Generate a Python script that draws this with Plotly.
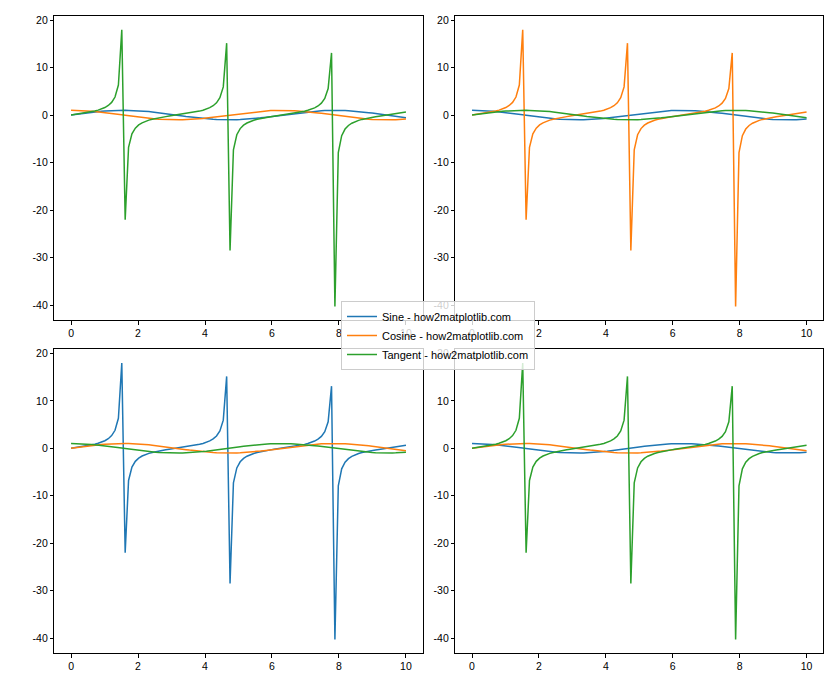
import plotly.graph_objects as go

x_vals = [0.0, 0.1010, 0.2020, 0.3030, 0.4040, 0.5051, 0.6061, 0.7071, 0.8081, 0.9091,
          1.0101, 1.1111, 1.2121, 1.3131, 1.4141, 1.5152, 1.6162, 1.7172, 1.8182, 1.9192,
          2.0202, 2.1212, 2.2222, 2.3232, 2.4242, 2.5253, 2.6263, 2.7273, 2.8283, 2.9293,
          3.0303, 3.1313, 3.2323, 3.3333, 3.4343, 3.5354, 3.6364, 3.7374, 3.8384, 3.9394,
          4.0404, 4.1414, 4.2424, 4.3434, 4.4444, 4.5455, 4.6465, 4.7475, 4.8485, 4.9495,
          5.0505, 5.1515, 5.2525, 5.3535, 5.4545, 5.5556, 5.6566, 5.7576, 5.8586, 5.9596,
          6.0606, 6.1616, 6.2626, 6.3636, 6.4646, 6.5657, 6.6667, 6.7677, 6.8687, 6.9697,
          7.0707, 7.1717, 7.2727, 7.3737, 7.4747, 7.5758, 7.6768, 7.7778, 7.8788, 7.9798,
          8.0808, 8.1818, 8.2828, 8.3838, 8.4848, 8.5859, 8.6869, 8.7879, 8.8889, 8.9899,
          9.0909, 9.1919, 9.2929, 9.3939, 9.4949, 9.5960, 9.6970, 9.7980, 9.8990, 10.0]

sine = [0.0, 0.1008, 0.2007, 0.2984, 0.3931, 0.4839, 0.5696, 0.6496, 0.7230, 0.7889,
        0.8469, 0.8962, 0.9364, 0.9670, 0.9878, 0.9985, 0.9990, 0.9893, 0.9696, 0.9399,
        0.9007, 0.8523, 0.7952, 0.7300, 0.6574, 0.5781, 0.4928, 0.4026, 0.3082, 0.2107,
        0.1111, 0.0103, -0.0906, -0.1906, -0.2886, -0.3837, -0.4748, -0.5612, -0.6418, -0.7158,
        -0.7826, -0.8414, -0.8916, -0.9327, -0.9643, -0.9861, -0.9978, -0.9994, -0.9908, -0.9720,
        -0.9434, -0.9051, -0.8576, -0.8014, -0.7370, -0.6651, -0.5864, -0.5017, -0.4120, -0.3180,
        -0.2207, -0.1213, -0.0206, 0.0804, 0.1805, 0.2787, 0.3742, 0.4658, 0.5526, 0.6338,
        0.7086, 0.7761, 0.8358, 0.8869, 0.9289, 0.9615, 0.9843, 0.9971, 0.9997, 0.9921,
        0.9744, 0.9467, 0.9094, 0.8629, 0.8075, 0.7439, 0.6727, 0.5947, 0.5106, 0.4213,
        0.3277, 0.2308, 0.1315, 0.0308, -0.0701, -0.1703, -0.2688, -0.3646, -0.4566, -0.5440]

cosine = [1.0, 0.9949, 0.9797, 0.9544, 0.9195, 0.8752, 0.8219, 0.7603, 0.6909, 0.6145,
          0.5318, 0.4437, 0.3510, 0.2548, 0.1560, 0.0556, -0.0453, -0.1459, -0.2449, -0.3414,
          -0.4344, -0.5230, -0.6063, -0.6834, -0.7536, -0.8160, -0.8701, -0.9154, -0.9513, -0.9776,
          -0.9938, -0.9999, -0.9959, -0.9817, -0.9575, -0.9235, -0.8801, -0.8277, -0.7669, -0.6983,
          -0.6225, -0.5405, -0.4529, -0.3606, -0.2648, -0.1662, -0.0659, 0.0351, 0.1357, 0.2349,
          0.3317, 0.4251, 0.5143, 0.5981, 0.6759, 0.7468, 0.8100, 0.8650, 0.9112, 0.9481,
          0.9753, 0.9926, 0.9998, 0.9968, 0.9836, 0.9604, 0.9274, 0.8849, 0.8334, 0.7735,
          0.7056, 0.6306, 0.5491, 0.4620, 0.3702, 0.2746, 0.1763, 0.0761, -0.0248, -0.1255,
          -0.2249, -0.3220, -0.4158, -0.5054, -0.5898, -0.6683, -0.7399, -0.8039, -0.8598, -0.9069,
          -0.9448, -0.9730, -0.9913, -0.9995, -0.9975, -0.9854, -0.9632, -0.9312, -0.8897, -0.8391]

tangent = [0.0, 0.1014, 0.2048, 0.3127, 0.4276, 0.5529, 0.6931, 0.8544, 1.0464, 1.2840,
           1.5926, 2.0200, 2.6674, 3.7947, 6.3311, 17.952, -22.029, -6.7829, -3.9595, -2.7532,
           -2.0733, -1.6295, -1.3116, -1.0682, -0.8724, -0.7084, -0.5664, -0.4398, -0.3240, -0.2156,
           -0.1118, -0.0103, 0.0910, 0.1941, 0.3014, 0.4155, 0.5395, 0.6780, 0.8368, 1.0251,
           1.2571, 1.5568, 1.9688, 2.5862, 3.6424, 5.9346, 15.147, -28.490, -7.3024, -4.1382,
           -2.8440, -2.1290, -1.6677, -1.3399, -1.0905, -0.8907, -0.7239, -0.5800, -0.4521, -0.3354,
           -0.2263, -0.1222, -0.0206, 0.0806, 0.1835, 0.2902, 0.4035, 0.5263, 0.6631, 0.8195,
           1.0043, 1.2309, 1.5222, 1.9197, 2.5093, 3.5010, 5.5837, 13.097, -40.304, -7.9061,
           -4.3328, -2.9402, -2.1871, -1.7073, -1.3690, -1.1132, -0.9093, -0.7397, -0.5939, -0.4645,
           -0.3469, -0.2372, -0.1326, -0.0308, 0.0703, 0.1729, 0.2791, 0.3916, 0.5133, 0.6484]

legend_names = ["Sine - how2matplotlib.com", "Cosine - how2matplotlib.com",
                "Tangent - how2matplotlib.com"]
x_ticks = [0, 2, 4, 6, 8, 10]
y_ticks = [-40, -30, -20, -10, 0, 10, 20]

series = {"sin": sine, "cos": cosine, "tan": tangent}
colors = ["#1f77b4", "#ff7f0e", "#2ca02c"]

# plotting order per panel (matplotlib colour cycle C0, C1, C2)
panels = [
    ("x", "y", ["sin", "cos", "tan"], True),
    ("x2", "y2", ["cos", "tan", "sin"], False),
    ("x3", "y3", ["tan", "sin", "cos"], False),
    ("x4", "y4", ["cos", "sin", "tan"], False),
]

fig = go.Figure()
for xa, ya, order, show in panels:
    for k, key in enumerate(order):
        fig.add_trace(go.Scatter(
            x=x_vals, y=series[key], mode="lines",
            line=dict(color=colors[k], width=1.5),
            name=legend_names[k], showlegend=show,
            xaxis=xa, yaxis=ya, hoverinfo="skip",
        ))

W, H = 840, 700
colx = [(54.3, 422.7), (455.3, 823.3)]
rowy = [(16.0, 320.3), (349.3, 653.3)]

ymin = min(tangent)
ymax = max(tangent)
pad = (ymax - ymin) * 0.05
yr = [ymin - pad, ymax + pad]
xr = [-0.5, 10.5]

FONT = "Liberation Sans, Arial, sans-serif"
axis_common = dict(
    showgrid=False, zeroline=False, showline=True, mirror=True,
    linecolor="black", linewidth=0.8, ticks="outside", ticklen=3.5,
    tickwidth=0.8, tickcolor="black", automargin=False,
    tickfont=dict(family=FONT, size=10.5, color="black"),
)

layout = dict(
    width=W, height=H,
    margin=dict(l=0, r=0, t=0, b=0, autoexpand=False),
    paper_bgcolor="white", plot_bgcolor="white",
    font=dict(family=FONT, size=10.5, color="black"),
    showlegend=True,
    legend=dict(
        x=438 / W, y=1 - 335.5 / H, xanchor="center", yanchor="middle",
        bgcolor="rgba(255,255,255,0.8)", bordercolor="#cccccc", borderwidth=1,
        font=dict(size=11, color="black"), itemwidth=30, tracegroupgap=0,
    ),
)

names = ["", "2", "3", "4"]
for idx, (r, c) in enumerate([(0, 0), (0, 1), (1, 0), (1, 1)]):
    n = names[idx]
    x0, x1 = colx[c]
    y0, y1 = rowy[r]
    layout["xaxis" + n] = dict(
        domain=[x0 / W, x1 / W], range=xr, tickvals=x_ticks,
        ticktext=[str(t) for t in x_ticks],
        anchor="y" + n, **axis_common)
    layout["yaxis" + n] = dict(
        domain=[1 - y1 / H, 1 - y0 / H], range=yr, tickvals=y_ticks,
        ticktext=[str(t) for t in y_ticks],
        anchor="x" + n, **axis_common)

fig.update_layout(**layout)
fig.write_html(
    "out.html",
    config={"displayModeBar": False},
    post_script="document.body.style.margin='0';document.body.style.padding='0';",
)
